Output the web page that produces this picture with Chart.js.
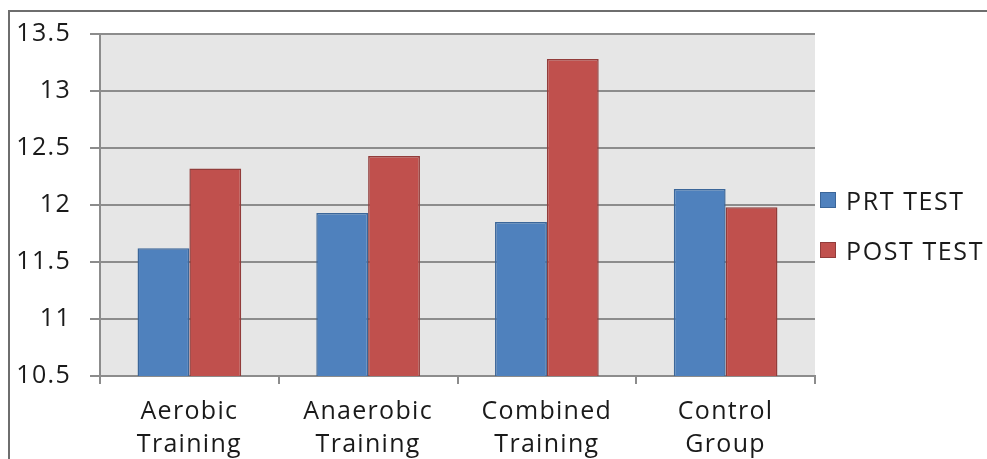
<!DOCTYPE html>
<html>
<head>
<meta charset="utf-8">
<script src="https://cdn.jsdelivr.net/npm/chart.js@4"></script>
<style>
  html, body { margin: 0; padding: 0; background: #fff; }
  #wrap { position: relative; width: 987px; height: 459px; overflow: hidden; font-family: 'Open Sans', sans-serif; }
  #frame { position: absolute; left: 8px; top: 10px; width: 2000px; height: 2000px;
           border-left: 2px solid #6e6e6e; border-top: 2px solid #6e6e6e; }
  canvas { position: absolute; left: 0; top: 0; }
  #legend { position: absolute; left: 820px; top: 175px; }
  .item { height: 50px; display: flex; align-items: center; font-size: 25px; letter-spacing: 1.6px; color: #1a1a1a; white-space: nowrap; }
  .box { width: 16px; height: 16px; margin-right: 10px; box-sizing: border-box; border: 1.5px solid; }
</style>
</head>
<body>
<div id="wrap">
  <div id="frame"></div>
  <canvas id="myChart" width="987" height="459"></canvas>
  <div id="legend"></div>
</div>
<script>
const categories = [['Aerobic', 'Training'], ['Anaerobic', 'Training'], ['Combined', 'Training'], ['Control', 'Group']]
const prtTest = [11.62, 11.93, 11.85, 12.14]
const postTest = [12.32, 12.43, 13.28, 11.98]
const yTicks = [10.5, 11, 11.5, 12, 12.5, 13, 13.5]

const plotBg = {
    id: 'plotBg',
    beforeDraw(chart) {
        const a = chart.chartArea
        const ctx = chart.ctx
        // text in the original is a bit stretched, widen it a little
        ctx.letterSpacing = '1.3px'
        ctx.save()
        ctx.fillStyle = '#e6e6e6'
        ctx.fillRect(a.left, a.top, a.right - a.left, a.bottom - a.top)
        ctx.restore()
    }
}

function renderLegend(chart) {
    const el = document.getElementById('legend')
    chart.data.datasets.forEach(ds => {
        const item = document.createElement('div')
        item.className = 'item'
        item.innerHTML = `<span class="box" style="background:${ds.backgroundColor};border-color:${ds.borderColor}"></span>${ds.label}`
        el.appendChild(item)
    })
}

function renderChart() {
    const chartEl = document.getElementById('myChart')
    let myChart = new Chart(chartEl, {
        type: 'bar',
        data: {
            labels: categories,
            datasets: [{
                label: 'PRT TEST',
                data: prtTest,
                backgroundColor: '#4f81bd',
                borderColor: '#3b6699',
                borderWidth: 1.5
            }, {
                label: 'POST TEST',
                data: postTest,
                backgroundColor: '#c0504d',
                borderColor: '#923c3a',
                borderWidth: 1.5
            }]
        },
        options: {
            responsive: false,
            animation: false,
            devicePixelRatio: 1,
            categoryPercentage: 0.58,
            barPercentage: 1,
            layout: { padding: { top: 33, right: 172, left: 0, bottom: 0 } },
            plugins: {
                tooltip: { enabled: false },
                legend: { display: false }
            },
            scales: {
                x: {
                    afterFit: axis => { axis.height = 83 },
                    grid: { offset: true, drawOnChartArea: false, color: '#8c8c8c', lineWidth: 2, tickLength: 8 },
                    border: { color: '#8c8c8c', width: 2 },
                    ticks: { color: '#1a1a1a', font: { family: 'Open Sans', size: 25, lineHeight: 1.34 }, padding: 11, maxRotation: 0 }
                },
                y: {
                    min: 10.5,
                    max: 13.5,
                    afterBuildTicks: axis => { axis.ticks = yTicks.map(v => ({ value: v })) },
                    afterFit: axis => { axis.width = 100 },
                    grid: { color: '#8c8c8c', lineWidth: 2, tickLength: 10 },
                    border: { color: '#8c8c8c', width: 2 },
                    ticks: { color: '#1a1a1a', font: { family: 'Open Sans', size: 25 }, padding: 19, callback: v => String(v) }
                }
            }
        },
        plugins: [plotBg]
    })
    renderLegend(myChart)
}

renderChart()
</script>
</body>
</html>
